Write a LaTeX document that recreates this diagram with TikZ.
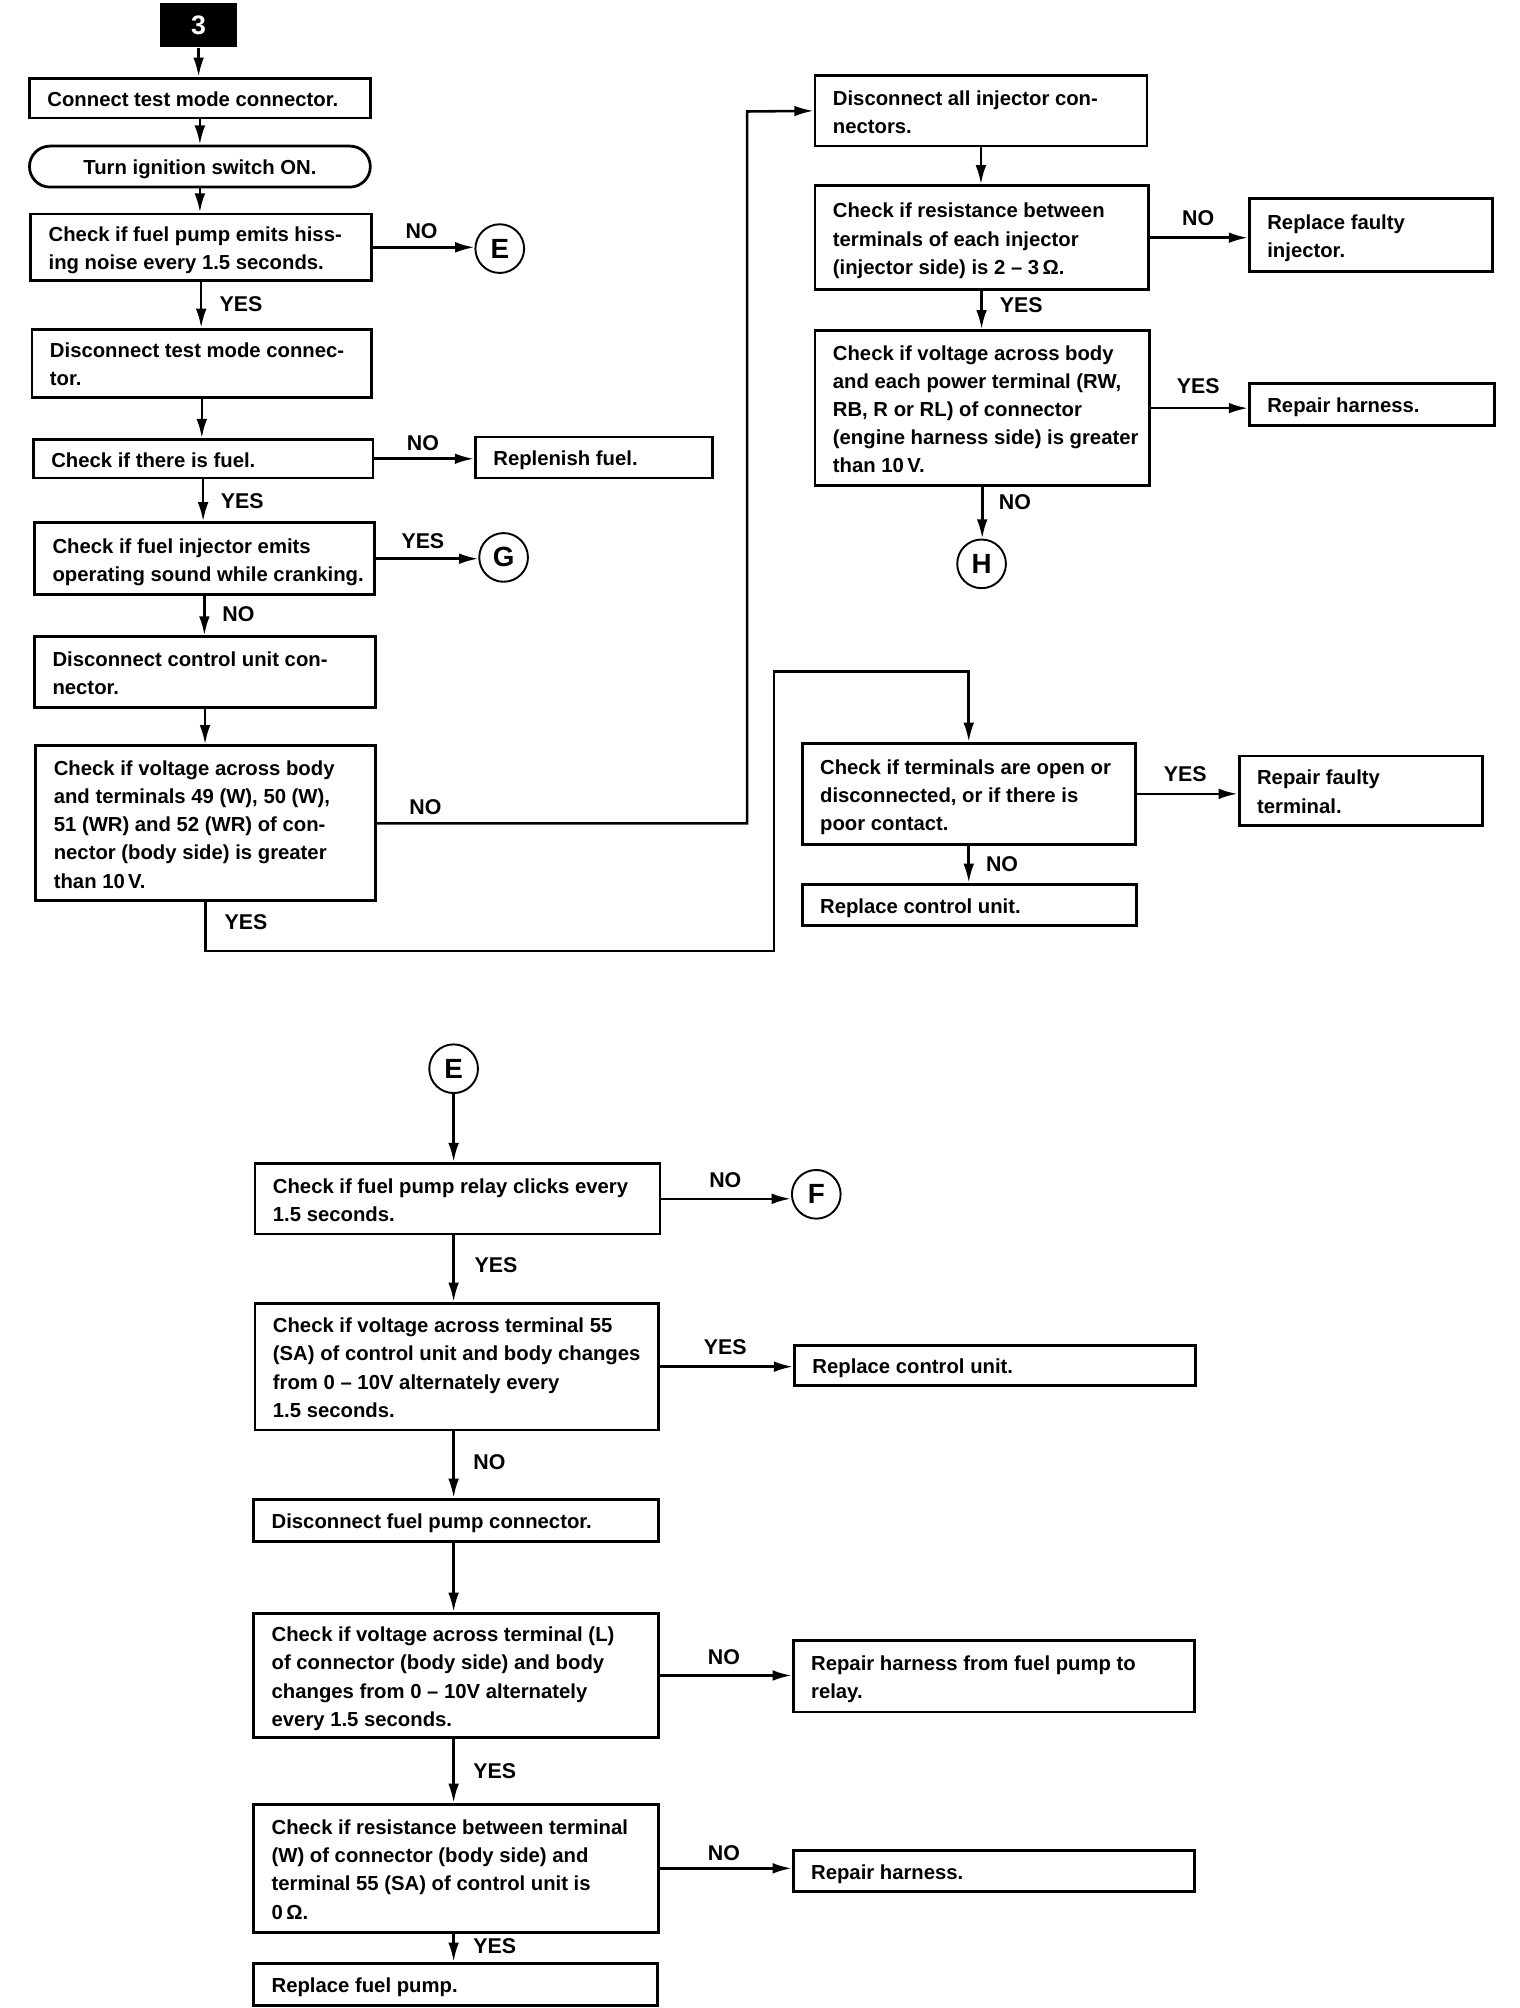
\documentclass[tikz,border=0pt]{standalone}
\usepackage{fontspec}
\setmainfont{Liberation Sans}
\usetikzlibrary{arrows.meta}
\newcommand\bx[6]{%
 \pgfmathsetmacro\bxw{(#4-#2)*0.6}%
 \pgfmathsetmacro\bxh{(#5-#3)*0.6}%
 \pgfmathsetmacro\bxt{(#4-#2-28)*0.6}%
 \node[box, minimum width=\bxw pt, minimum height=\bxh pt] (#1) at ({(#2+#4)/2},{(#3+#5)/2}) {\makebox[\bxt pt][l]{\raisebox{-1.3pt}[\height][\depth]{\begin{tabular}{@{}l@{}}#6\end{tabular}}}};}
\begin{document}
\begin{tikzpicture}[x=0.6pt,y=-0.6pt,
 box/.style={draw, line width=1.3pt, rectangle, align=left, inner xsep=8.4pt, inner ysep=1pt, font=\fontsize{9.5}{13.2}\selectfont\bfseries},
 rbox/.style={box, rounded corners=9.6pt, align=center},
 conn/.style={line width=1.2pt},
 arr/.style={conn, -{Latex[length=9pt,width=5pt]}},
 lab/.style={font=\fontsize{10}{12}\selectfont\bfseries, inner sep=0pt},
 circ/.style={draw, circle, line width=0.9pt, minimum size=22.8pt, inner sep=0pt, font=\fontsize{13}{13}\selectfont\bfseries},
 top3/.style={fill=black, text=white, minimum width=36pt, minimum height=21pt, inner sep=0pt, font=\fontsize{12.5}{12.5}\selectfont\bfseries},
]
\useasboundingbox[fill=white] (0,0) rectangle (1186,1567);

% ---------- left column ----------
\node[top3] (t3) at (155,19.5) {3};
\bx{b1}{23}{61}{289}{92}{Connect test mode connector.}
\node[rbox, minimum width=159.6pt, minimum height=19.2pt] (b2) at (156,130) {\raisebox{-1.3pt}[\height][\depth]{Turn ignition switch ON.}};
\bx{b3}{24}{167}{290}{219}{Check if fuel pump emits hiss-\\ing noise every 1.5 seconds.}
\node[circ] (E1) at (390,194) {E};
\bx{b4}{25}{257}{290}{310}{Disconnect test mode connec-\\tor.}
\bx{b5}{26}{343}{291}{373}{Check if there is fuel.}
\bx{rf}{371}{341}{556}{373}{Replenish fuel.}
\bx{b6}{27}{408}{292}{464}{Check if fuel injector emits\\operating sound while cranking.}
\node[circ] (G) at (393,435) {G};
\bx{b7}{27}{497}{293}{552}{Disconnect control unit con-\\nector.}
\bx{b8}{28}{582}{293}{703}{Check if voltage across body\\and terminals 49 (W), 50 (W),\\51 (WR) and 52 (WR) of con-\\nector (body side) is greater\\than 10\,V.}

% ---------- right column ----------
\bx{r1}{636}{59}{895}{114}{Disconnect all injector con-\\nectors.}
\bx{r2}{636}{145}{896}{226}{Check if resistance between\\terminals of each injector\\(injector side) is 2 – 3\,Ω.}
\bx{r3}{975}{155}{1165}{212}{Replace faulty\\injector.}
\bx{r4}{636}{258}{897}{379}{Check if voltage across body\\and each power terminal (RW,\\RB, R or RL) of connector\\(engine harness side) is greater\\than 10\,V.}
\bx{r5}{975}{299}{1166}{332}{Repair harness.}
\node[circ] (H) at (766,440) {H};
\bx{r6}{626}{580}{886}{659}{Check if terminals are open or\\disconnected, or if there is\\poor contact.}
\bx{r7}{967}{590}{1157}{644}{Repair faulty\\terminal.}
\bx{r8}{626}{690}{887}{722}{Replace control unit.}

% ---------- bottom section ----------
\node[circ] (E2) at (354,834) {E};
\bx{c1}{199}{908}{515}{963}{Check if fuel pump relay clicks every\\1.5 seconds.}
\node[circ] (F) at (637,932) {F};
\bx{c2}{199}{1017}{514}{1116}{Check if voltage across terminal 55\\(SA) of control unit and body changes\\from 0 – 10V alternately every\\1.5 seconds.}
\bx{c2r}{620}{1050}{933}{1081}{Replace control unit.}
\bx{c3}{198}{1170}{514}{1203}{Disconnect fuel pump connector.}
\bx{c4}{198}{1259}{514}{1356}{Check if voltage across terminal (L)\\of connector (body side) and body\\changes from 0 – 10V alternately\\every 1.5 seconds.}
\bx{c4r}{619}{1280}{932}{1336}{Repair harness from fuel pump to\\relay.}
\bx{c5}{198}{1408}{514}{1508}{Check if resistance between terminal\\(W) of connector (body side) and\\terminal 55 (SA) of control unit is\\0\,Ω.}
\bx{c5r}{619}{1444}{932}{1476}{Repair harness.}
\bx{c6}{198}{1532}{513}{1565}{Replace fuel pump.}

% ---------- connectors ----------
\draw[arr] (t3.south) -- (t3.south |- b1.north);
\draw[arr] (b1.south) -- (b1.south |- b2.north);
\draw[arr] (b2.south) -- (b2.south |- b3.north);
\draw[arr] (b3.east) -- (b3.east -| E1.west);
\draw[arr] (b3.south) -- (b3.south |- b4.north);
\draw[arr] (b4.south) -- (b4.south |- b5.north);
\draw[arr] (b5.east) -- (b5.east -| rf.west);
\draw[arr] (b5.south) -- (b5.south |- b6.north);
\draw[arr] (b6.east) -- (b6.east -| G.west);
\draw[arr] (b6.south) -- (b6.south |- b7.north);
\draw[arr] (b7.south) -- (b7.south |- b8.north);
\coordinate (k1) at (583,87);
\draw[arr] (b8.east) -| (k1) -- (r1.west);
\coordinate (k2) at (604,742);
\coordinate (k3) at (604,524);
\draw[arr] (b8.south) |- (k2) -- (k3) -| (r6.north);

\draw[arr] (r1.south) -- (r1.south |- r2.north);
\draw[arr] (r2.east) -- (r2.east -| r3.west);
\draw[arr] (r2.south) -- (r2.south |- r4.north);
\draw[arr] (r4.east) -- (r4.east -| r5.west);
\draw[arr] (r4.south) -- (r4.south |- H.north);
\draw[arr] (r6.east) -- (r6.east -| r7.west);
\draw[arr] (r6.south) -- (r6.south |- r8.north);

\draw[arr] (E2.south) -- (E2.south |- c1.north);
\draw[arr] (c1.east) -- (c1.east -| F.west);
\draw[arr] (E2 |- c1.south) -- (E2 |- c2.north);
\draw[arr] (c2.east) -- (c2.east -| c2r.west);
\draw[arr] (E2 |- c2.south) -- (E2 |- c3.north);
\draw[arr] (E2 |- c3.south) -- (E2 |- c4.north);
\draw[arr] (c4.east) -- (c4.east -| c4r.west);
\draw[arr] (E2 |- c4.south) -- (E2 |- c5.north);
\draw[arr] (c5.east) -- (c5.east -| c5r.west);
\draw[arr] (E2 |- c5.south) -- (E2 |- c6.north);

% ---------- labels ----------
\node[lab] (l1) at (329,180) {NO};
\node[lab] (l2) at (188,237) {YES};
\node[lab] (l3) at (330,346) {NO};
\node[lab] (l4) at (189,391) {YES};
\node[lab] (l5) at (330,422) {YES};
\node[lab] (l6) at (186,479) {NO};
\node[lab] (l7) at (332,630) {NO};
\node[lab] (l8) at (192,720) {YES};
\node[lab] (l9) at (935,170) {NO};
\node[lab] (l10) at (797,238) {YES};
\node[lab] (l11) at (935,301) {YES};
\node[lab] (l12) at (792,392) {NO};
\node[lab] (l13) at (925,604) {YES};
\node[lab] (l14) at (782,674) {NO};
\node[lab] (l15) at (566,921) {NO};
\node[lab] (l16) at (387,987) {YES};
\node[lab] (l17) at (566,1051) {YES};
\node[lab] (l18) at (382,1141) {NO};
\node[lab] (l19) at (565,1293) {NO};
\node[lab] (l20) at (386,1382) {YES};
\node[lab] (l21) at (565,1446) {NO};
\node[lab] (l22) at (386,1519) {YES};
\end{tikzpicture}
\end{document}
